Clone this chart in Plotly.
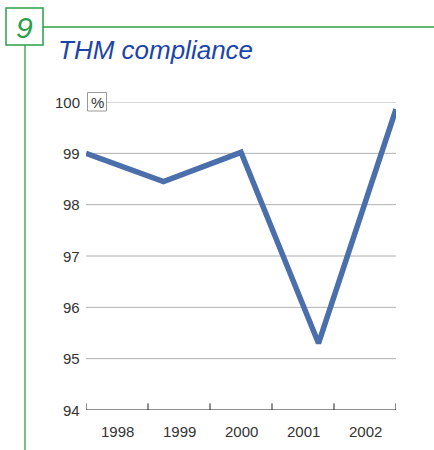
import plotly.graph_objects as go

years = ["1998", "1999", "2000", "2001", "2002"]
compliance = [99.0, 98.45, 99.02, 95.3, 99.86]
y_ticks = [94, 95, 96, 97, 98, 99, 100]

W, H = 434, 450
L, R, T, B = 86, 38, 102, 40
pw, ph = W - L - R, H - T - B

def px(x):
    return (x - L) / pw

def py(y):
    return (H - B - y) / ph

n = len(years)
xs = [i * n / (n - 1) for i in range(n)]

FONT = "Liberation Sans, Arial, sans-serif"

fig = go.Figure()
fig.add_trace(go.Scatter(
    x=xs, y=compliance, mode="lines",
    line=dict(color="#4a6fab", width=5.5, shape="linear"),
    hoverinfo="skip", showlegend=False,
))

green = "#2aa047"
shapes = []
for v in y_ticks[1:]:
    shapes.append(dict(type="line", xref="paper" if v == 100 else "x", yref="y",
                       x0=px(107) if v == 100 else 0, x1=1 if v == 100 else n,
                       y0=v, y1=v,
                       line=dict(color="#b0b0b0", width=1), layer="below"))
for i in range(n + 1):
    shapes.append(dict(type="line", xref="x", yref="y", x0=i, x1=i, y0=94, y1=94.13,
                       line=dict(color="#222", width=1)))
shapes.append(dict(type="line", xref="x", yref="y", x0=0, x1=n, y0=94, y1=94,
                   line=dict(color="#222", width=1.2)))
shapes.append(dict(type="rect", xref="paper", yref="paper",
                   x0=px(87.5), x1=px(106.5), y0=py(111), y1=py(92.5),
                   line=dict(color="#999", width=1), fillcolor="white"))
shapes.append(dict(type="rect", xref="paper", yref="paper",
                   x0=px(6), x1=px(43), y0=py(45), y1=py(8),
                   line=dict(color=green, width=1.5)))
shapes.append(dict(type="line", xref="paper", yref="paper",
                   x0=px(43), x1=px(434), y0=py(27), y1=py(27),
                   line=dict(color=green, width=1.3)))
shapes.append(dict(type="line", xref="paper", yref="paper",
                   x0=px(25), x1=px(25), y0=py(45), y1=py(452),
                   line=dict(color=green, width=1.3)))

annotations = []
for i, yr in enumerate(years):
    annotations.append(dict(x=i + 0.5, y=py(431), xref="x", yref="paper", text=yr,
                            xanchor="center", yanchor="middle",
                            showarrow=False, font=dict(size=15, color="#333", family=FONT)))
for v in y_ticks:
    annotations.append(dict(x=px(82), y=v, xref="paper", yref="y", text=str(v),
                            xanchor="right", yanchor="middle", showarrow=False,
                            font=dict(size=15, color="#333", family=FONT)))
annotations.append(dict(x=px(97), y=py(102), xref="paper", yref="paper", text="%",
                        xanchor="center", yanchor="middle",
                        showarrow=False, font=dict(size=15, color="#333", family=FONT)))
annotations.append(dict(x=px(24.5), y=py(27), xref="paper", yref="paper",
                        text="<i>9</i>", xanchor="center", yanchor="middle", showarrow=False,
                        font=dict(size=30, color=green, family=FONT)))
annotations.append(dict(x=px(56), y=py(50), xref="paper", yref="paper",
                        text="<i>THM compliance</i>", xanchor="left", yanchor="middle",
                        showarrow=False,
                        font=dict(size=26, color="#1d44a8", family=FONT)))

fig.update_layout(
    width=W, height=H,
    margin=dict(l=L, r=R, t=T, b=B),
    paper_bgcolor="white", plot_bgcolor="white",
    xaxis=dict(range=[0, n], showgrid=False, zeroline=False, showticklabels=False,
               ticks="", showline=False, fixedrange=True),
    yaxis=dict(range=[94, 100], showgrid=False, zeroline=False, showticklabels=False,
               ticks="", showline=False, fixedrange=True),
    shapes=shapes, annotations=annotations,
)

fig.write_html("out.html", config={"displayModeBar": False},
               post_script="document.body.style.margin='0';document.body.style.padding='0';")
